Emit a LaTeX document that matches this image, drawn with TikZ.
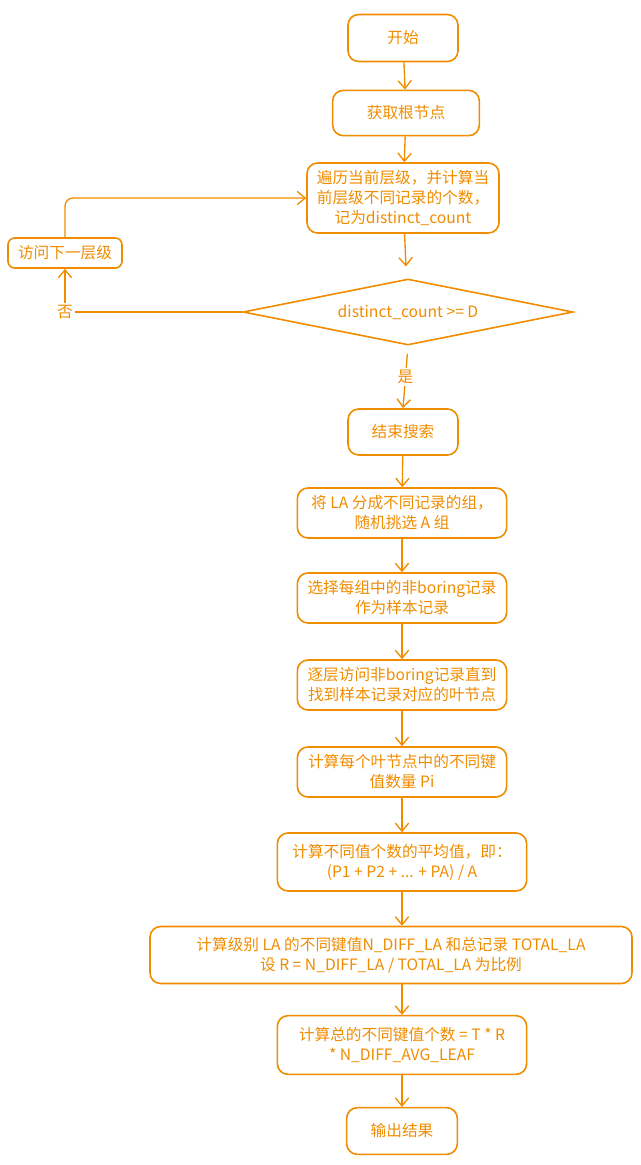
\documentclass[tikz,border=0pt]{standalone}
\usepackage{fontspec}
\setmainfont{Noto Sans CJK SC}
\usetikzlibrary{shapes.geometric,arrows.meta}
\definecolor{sketchorange}{RGB}{240,140,0}

\tikzset{every picture/.style={line width=0.75pt}}
\tikzset{
  stepbox/.style={draw=sketchorange, line width=1.2pt, rounded corners=8pt, text=sketchorange, align=center, inner sep=2pt, font=\fontsize{11.75}{15}\selectfont},
  decision/.style={diamond, draw=sketchorange, line width=1.2pt, text=sketchorange, inner sep=0pt, aspect=5, font=\fontsize{11.75}{15}\selectfont},
  flow/.style={draw=sketchorange, line width=1pt, -{Straight Barb[length=6pt,width=10pt]}},
  plainline/.style={draw=sketchorange, line width=1pt},
  tag/.style={text=sketchorange, fill=white, inner sep=1.5pt, font=\fontsize{11.75}{15}\selectfont}
}

\begin{document}
\begin{tikzpicture}[x=0.75pt,y=0.75pt,yscale=-1,xscale=1]
\path[use as bounding box] (0,0) rectangle (641,1165);

%Shape: Rounded Rect
\node[stepbox, minimum width=82.5pt, minimum height=35.25pt] (start) at (403,38) {开始};
%Shape: Rounded Rect
\node[stepbox, minimum width=110pt, minimum height=34pt] (root) at (406,113) {获取根节点};
%Shape: Rounded Rect
\node[stepbox, minimum width=144pt, minimum height=52.5pt] (scan) at (403,198) {遍历当前层级，并计算当\\前层级不同记录的个数，\\记为distinct\_count};
%Shape: Rounded Rect
\node[stepbox, rounded corners=5pt, minimum width=85.5pt, minimum height=22.5pt] (visit) at (65,253) {访问下一层级};
%Shape: Diamond
\node[decision, minimum width=247.5pt, minimum height=49.5pt] (decide) at (408,312) {distinct\_count >= D};
%Shape: Rounded Rect
\node[stepbox, minimum width=82.5pt, minimum height=34.5pt] (stop) at (403,432) {结束搜索};
%Shape: Rounded Rect
\node[stepbox, minimum width=157pt, minimum height=37.5pt] (group) at (402,513) {将 LA 分成不同记录的组，\\随机挑选 A 组};
%Shape: Rounded Rect
\node[stepbox, minimum width=157pt, minimum height=37.5pt] (pick) at (402,598) {选择每组中的非boring记录\\作为样本记录};
%Shape: Rounded Rect
\node[stepbox, minimum width=157pt, minimum height=37.5pt] (walk) at (402,685) {逐层访问非boring记录直到\\找到样本记录对应的叶节点};
%Shape: Rounded Rect
\node[stepbox, minimum width=157pt, minimum height=37.5pt] (leaf) at (402,772) {计算每个叶节点中的不同键\\值数量 Pi};
%Shape: Rounded Rect
\node[stepbox, minimum width=187pt, minimum height=43.5pt] (avg) at (402,862) {计算不同值个数的平均值，即：\\(P1 + P2 + ... + PA) / A};
%Shape: Rounded Rect
\node[stepbox, minimum width=361.5pt, minimum height=42.75pt] (ratio) at (391,955) {计算级别 LA 的不同键值N\_DIFF\_LA 和总记录 TOTAL\_LA\\设 R = N\_DIFF\_LA / TOTAL\_LA 为比例};
%Shape: Rounded Rect
\node[stepbox, minimum width=187pt, minimum height=44pt] (total) at (402,1045) {计算总的不同键值个数 = T * R\\* N\_DIFF\_AVG\_LEAF};
%Shape: Rounded Rect
\node[stepbox, minimum width=83pt, minimum height=35pt] (finish) at (402,1131) {输出结果};

% Text Node
\node[tag] (no) at (65,312) {否};

%Straight Lines
\draw[flow] (start) -- (root);
\draw[flow] (root) -- (scan);
\draw[flow, shorten >=9pt] (scan) -- (decide);
\draw[flow, shorten <=6pt] (decide.south) -- node[tag] (yes) {是} (stop.north);
\draw[flow] (stop) -- (group);
\draw[flow] (group) -- (pick);
\draw[flow] (pick) -- (walk);
\draw[flow] (walk) -- (leaf);
\draw[flow] (leaf) -- (avg);
\draw[flow] (avg.south) -- (avg.south |- ratio.north);
\draw[flow] (total.north |- ratio.south) -- (total.north);
\draw[flow] (total) -- (finish);
%Loop back
\draw[plainline] (decide.west) -- (no.east);
\draw[flow] (no.north) -- (visit.south);
\draw[flow, rounded corners=6pt] (visit.north) |- (scan.west);
\end{tikzpicture}
\end{document}
